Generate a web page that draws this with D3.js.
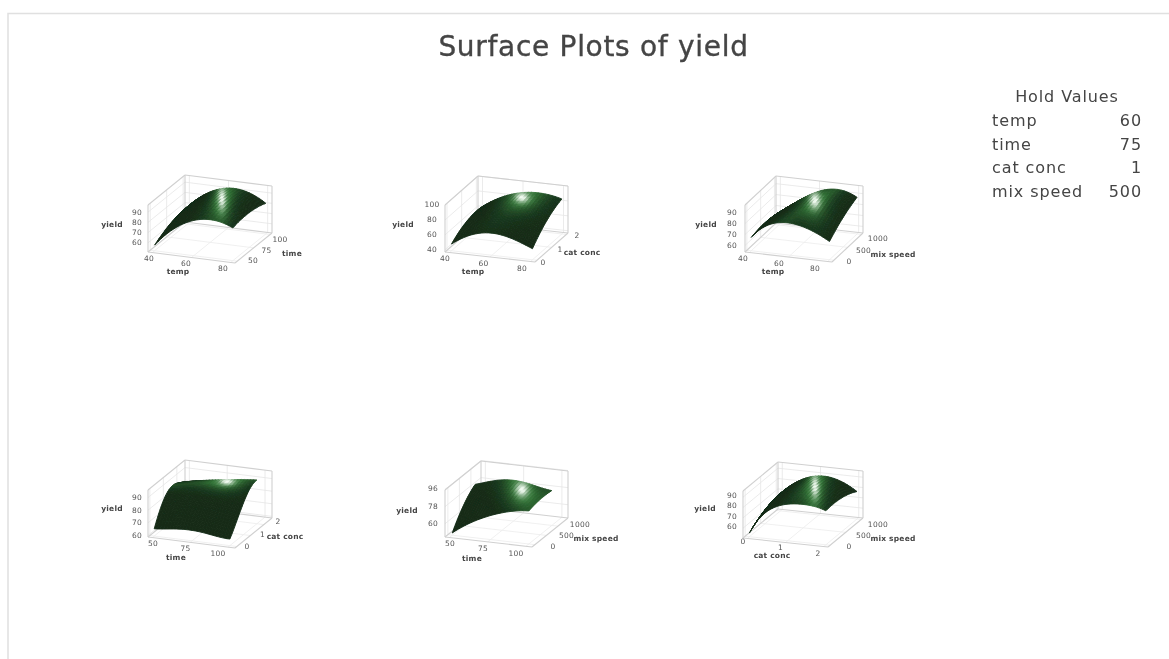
<!DOCTYPE html>
<html>
<head>
<meta charset="utf-8">
<script src="https://cdn.jsdelivr.net/npm/d3@7"></script>
<style>
  html, body { margin: 0; padding: 0; background: #fff; }
  text { font-family: "DejaVu Sans", sans-serif; fill: #444; }
</style>
</head>
<body>
<script>
const width = 1169, height = 659;

// axis values (columns / rows of the yield tables)
const tempValues = [40, 50, 60, 70, 80];
const timeValues = [50, 62.5, 75, 87.5, 100];
const catValues = [0, 0.5, 1, 1.5, 2];
const mixValues = [0, 250, 500, 750, 1000];

const tempTicks = [40, 60, 80];
const timeTicks = [50, 75, 100];
const catTicks = [0, 1, 2];
const mixTicks = [0, 500, 1000];

// yield, one row per value of the depth axis
const yieldTempTime = [
  [56.5, 75.0, 85.5, 88.2, 83.0],
  [61.6, 79.4, 89.1, 90.9, 84.8],
  [65.3, 82.3, 91.3, 92.2, 85.0],
  [67.4, 83.7, 91.9, 91.9, 83.8],
  [68.0, 83.6, 91.0, 90.1, 81.0]
];
const yieldTempCat = [
  [46.0, 61.4, 66.6, 62.1, 51.8],
  [53.4, 69.1, 75.3, 72.5, 63.6],
  [58.2, 74.3, 81.5, 80.3, 72.9],
  [60.6, 76.9, 85.1, 85.6, 79.6],
  [60.4, 77.1, 86.3, 88.5, 83.9]
];
const yieldTempMix = [
  [66.2, 80.4, 83.3, 79.3, 70.7],
  [67.5, 81.3, 86.2, 84.2, 76.4],
  [67.8, 81.3, 88.0, 88.0, 81.1],
  [67.1, 80.2, 88.9, 90.9, 84.8],
  [65.4, 78.1, 88.7, 92.7, 87.5]
];
const yieldTimeCat = [
  [64.5, 66.2, 67.0, 65.4, 63.9],
  [77.5, 78.6, 78.7, 76.9, 73.6],
  [85.3, 86.2, 86.4, 85.1, 83.7],
  [86.8, 89.0, 90.0, 90.1, 91.1],
  [83.8, 87.2, 89.7, 91.8, 93.4]
];
const yieldTimeMix = [
  [48.3, 61.7, 71.3, 77.8, 80.8],
  [59.3, 70.4, 78.0, 81.8, 82.5],
  [68.2, 77.5, 83.1, 84.6, 83.4],
  [75.2, 82.7, 86.8, 86.1, 83.4],
  [80.1, 86.2, 88.9, 86.3, 82.7]
];
const yieldCatMix = [
  [54.0, 77.8, 85.9, 87.2, 83.4],
  [59.7, 81.0, 88.8, 89.3, 84.1],
  [63.9, 82.9, 90.1, 89.8, 83.3],
  [66.5, 83.1, 90.0, 88.9, 81.0],
  [67.7, 81.9, 88.3, 86.4, 77.1]
];

const holdNames = ["temp", "time", "cat conc", "mix speed"];
const holdValues = [60, 75, 1, 500];

// one entry per panel, box corners are page pixels (A front left, B front right, C back right)
// glare is the bright spot on the surface: centre x, y and radii
const panels = [
  { xName: "temp", yName: "time", xs: tempValues, ys: timeValues, xTicks: tempTicks, yTicks: timeTicks,
    grid: yieldTempTime, zTicks: [60, 70, 80, 90], zDomain: [51, 97],
    A: [148, 252], B: [235, 263], C: [272, 233], uRange: [0.05, 0.95], vRange: [0.06, 0.95],
    glare: [222, 199, 3.5, 11],
    xLab: [[149, 259], [223, 269]], yLab: [[253, 261], [280, 240]], zLab: [137, 243, 213],
    xTitle: [178, 272], yTitle: [292, 254], zTitle: [112, 225] },
  { xName: "temp", yName: "cat conc", xs: tempValues, ys: catValues, xTicks: tempTicks, yTicks: catTicks,
    grid: yieldTempCat, zTicks: [40, 60, 80, 100], zDomain: [37, 100],
    A: [445, 252], B: [535, 262], C: [568, 233], uRange: [0.05, 0.95], vRange: [0.06, 0.95],
    glare: [522, 198, 6.5, 5],
    xLab: [[445, 259], [522, 269]], yLab: [[543, 263], [577, 236]], zLab: [432, 250, 205],
    xTitle: [473, 272], yTitle: [582, 253], zTitle: [403, 225] },
  { xName: "temp", yName: "mix speed", xs: tempValues, ys: mixValues, xTicks: tempTicks, yTicks: mixTicks,
    grid: yieldTempMix, zTicks: [60, 70, 80, 90], zDomain: [54, 97],
    A: [745, 252], B: [832, 262], C: [863, 233], uRange: [0.05, 0.95], vRange: [0.06, 0.95],
    glare: [815, 201, 5, 8],
    xLab: [[743, 259], [815, 269]], yLab: [[849, 262], [878, 239]], zLab: [732, 246, 213],
    xTitle: [773, 272], yTitle: [893, 255], zTitle: [706, 225] },
  { xName: "time", yName: "cat conc", xs: timeValues, ys: catValues, xTicks: timeTicks, yTicks: catTicks,
    grid: yieldTimeCat, zTicks: [60, 70, 80, 90], zDomain: [58.7, 96],
    A: [148, 537], B: [235, 548], C: [272, 518], uRange: [0.05, 0.92], vRange: [0.05, 0.78],
    glare: [227, 482, 7, 3.5],
    xLab: [[153, 544], [218, 554]], yLab: [[247, 547], [278, 522]], zLab: [137, 536, 498],
    xTitle: [176, 558], yTitle: [285, 537], zTitle: [112, 509] },
  { xName: "time", yName: "mix speed", xs: timeValues, ys: mixValues, xTicks: timeTicks, yTicks: mixTicks,
    grid: yieldTimeMix, zTicks: [60, 78, 96], zDomain: [46, 95.5],
    A: [445, 537], B: [532, 547], C: [568, 518], uRange: [0.05, 0.93], vRange: [0.08, 0.72],
    glare: [522, 490, 6, 7],
    xLab: [[450, 544], [516, 554]], yLab: [[553, 547], [580, 525]], zLab: [433, 524, 489],
    xTitle: [472, 559], yTitle: [596, 539], zTitle: [407, 511] },
  { xName: "cat conc", yName: "mix speed", xs: catValues, ys: mixValues, xTicks: catTicks, yTicks: mixTicks,
    grid: yieldCatMix, zTicks: [60, 70, 80, 90], zDomain: [50.5, 96],
    A: [743, 538], B: [828, 547], C: [863, 518], uRange: [0.05, 0.95], vRange: [0.06, 0.95],
    glare: [815, 487, 3.5, 11],
    xLab: [[743, 542], [818, 554]], yLab: [[849, 547], [878, 525]], zLab: [732, 527, 496],
    xTitle: [772, 556], yTitle: [893, 539], zTitle: [705, 509] }
];

const boxHeight = 47;
const subdiv = 24;

const svg = d3.select("body").append("svg")
  .attr("width", width)
  .attr("height", height)
  .style("display", "block");

const defs = svg.append("defs");
defs.append("filter").attr("id", "soft").attr("x", "-5%").attr("y", "-5%").attr("width", "110%").attr("height", "110%")
  .append("feGaussianBlur").attr("stdDeviation", 0.7);
defs.append("filter").attr("id", "softText").attr("x", "-5%").attr("y", "-20%").attr("width", "110%").attr("height", "140%")
  .append("feGaussianBlur").attr("stdDeviation", 0.5);
defs.append("filter").attr("id", "softLabel").attr("x", "-5%").attr("y", "-5%").attr("width", "110%").attr("height", "110%")
  .append("feGaussianBlur").attr("stdDeviation", 0.6);

// page frame
svg.append("path")
  .attr("d", `M8,${height}V13.5H${width}`)
  .attr("fill", "none")
  .attr("stroke", "#e0e0e0")
  .attr("stroke-width", 1.5);

svg.append("text")
  .attr("x", 593.5)
  .attr("y", 56)
  .attr("text-anchor", "middle")
  .attr("font-size", 28)
  .attr("letter-spacing", 0.7)
  .attr("stroke", "#444")
  .attr("stroke-width", 0.35)
  .attr("filter", "url(#softText)")
  .text("Surface Plots of yield");

// hold values table
const hold = svg.append("g").attr("filter", "url(#softText)").attr("font-size", 16).attr("letter-spacing", 0.9);
hold.append("text").attr("x", 1067).attr("y", 102).attr("text-anchor", "middle").text("Hold Values");
holdNames.forEach((name, i) => {
  const y = 126 + i * 23.7;
  hold.append("text").attr("x", 992).attr("y", y).text(name);
  hold.append("text").attr("x", 1142).attr("y", y).attr("text-anchor", "end").text(holdValues[i]);
});

// smooth value between the table points
function lagrange(vals, t) {
  const n = vals.length;
  let sum = 0;
  for (let i = 0; i < n; i++) {
    let term = vals[i];
    for (let j = 0; j < n; j++) {
      if (j !== i) term *= (t - j) / (i - j);
    }
    sum += term;
  }
  return sum;
}

const dark = d3.rgb(20, 44, 24);
const green = d3.rgb(52, 118, 56);
const shine = d3.rgb(240, 250, 240);

panels.forEach(p => {
  const uVec = [p.B[0] - p.A[0], p.B[1] - p.A[1]];
  const vVec = [p.C[0] - p.B[0], p.C[1] - p.B[1]];
  const project = (u, v, w) => [
    p.A[0] + u * uVec[0] + v * vVec[0],
    p.A[1] + u * uVec[1] + v * vVec[1] - w * boxHeight
  ];

  const uScale = d3.scaleLinear().domain(d3.extent(p.xs)).range(p.uRange);
  const vScale = d3.scaleLinear().domain(d3.extent(p.ys)).range(p.vRange);
  const wScale = d3.scaleLinear().domain(p.zDomain).range([0, 1]);

  const g = svg.append("g").attr("filter", "url(#soft)");
  const line = d3.line();

  const addLine = (a, b, color, w) => g.append("path")
    .attr("d", line([project(...a), project(...b)]))
    .attr("fill", "none")
    .attr("stroke", color)
    .attr("stroke-width", w);

  // walls and floor grid
  p.zTicks.forEach(t => {
    const w = wScale(t);
    addLine([0, 0, w], [0, 1, w], "#e6e6e6", 0.8);
    addLine([0, 1, w], [1, 1, w], "#e6e6e6", 0.8);
  });
  p.xTicks.forEach(t => {
    const u = uScale(t);
    addLine([u, 0, 0], [u, 1, 0], "#ececec", 0.8);
    addLine([u, 1, 0], [u, 1, 1], "#e6e6e6", 0.8);
  });
  p.yTicks.forEach(t => {
    const v = vScale(t);
    addLine([0, v, 0], [1, v, 0], "#ececec", 0.8);
    addLine([0, v, 0], [0, v, 1], "#e6e6e6", 0.8);
  });

  // box edges
  [
    [[0, 0, 0], [1, 0, 0]], [[1, 0, 0], [1, 1, 0]], [[0, 0, 0], [0, 1, 0]], [[0, 1, 0], [1, 1, 0]],
    [[0, 0, 0], [0, 0, 1]], [[0, 1, 0], [0, 1, 1]], [[1, 1, 0], [1, 1, 1]],
    [[0, 0, 1], [0, 1, 1]], [[0, 1, 1], [1, 1, 1]]
  ].forEach(e => addLine(e[0], e[1], "#d0d0d0", 1.1));

  // surface mesh in box coordinates, rows run front to back
  const last = p.xs.length - 1;
  const mesh = d3.range(subdiv + 1).map(j => {
    const sj = j / subdiv * last;
    const col = p.grid[0].map((_, c) => lagrange(p.grid.map(r => r[c]), sj));
    return d3.range(subdiv + 1).map(i => ({
      u: uScale(lagrange(p.xs, i / subdiv * last)),
      v: vScale(lagrange(p.ys, sj)),
      w: wScale(lagrange(col, i / subdiv * last))
    }));
  });

  const surf = g.append("g");
  for (let j = subdiv - 1; j >= 0; j--) {
    for (let i = 0; i < subdiv; i++) {
      const a = mesh[j][i], b = mesh[j][i + 1], c = mesh[j + 1][i + 1], d = mesh[j + 1][i];
      const dwdu = ((b.w - a.w) + (c.w - d.w)) / 2 / (b.u - a.u);
      const dwdv = ((d.w - a.w) + (c.w - b.w)) / 2 / (d.v - a.v);
      const nz = 1 / Math.hypot(0.8 * dwdu, 0.8 * dwdv, 1);
      const pts = [a, b, c, d].map(q => project(q.u, q.v, q.w));
      const cx = d3.mean(pts, q => q[0]), cy = d3.mean(pts, q => q[1]);
      const dx = (cx - p.glare[0]) / p.glare[2], dy = (cy - p.glare[1]) / p.glare[3];
      const r2 = dx * dx + dy * dy;
      const col = d3.interpolateRgb(
        d3.interpolateRgb(dark, green)(Math.min(1, 0.55 * Math.pow(nz, 16) + 0.85 * Math.exp(-r2 / 7))),
        shine
      )(Math.min(1, 1.05 * Math.exp(-r2)));
      surf.append("path")
        .attr("d", line(pts) + "Z")
        .attr("fill", col)
        .attr("stroke", col)
        .attr("stroke-width", 0.9)
        .attr("stroke-linejoin", "round");
    }
  }

  // tick labels and axis titles
  const labels = svg.append("g")
    .attr("filter", "url(#softLabel)")
    .attr("text-anchor", "middle")
    .attr("dominant-baseline", "middle");
  const bold = (pos, txt) => labels.append("text")
    .attr("x", pos[0]).attr("y", pos[1])
    .attr("font-size", 7.5)
    .attr("font-weight", 700)
    .attr("letter-spacing", 0.2)
    .text(txt);
  const tick = (x, y, txt) => labels.append("text")
    .attr("x", x).attr("y", y)
    .attr("font-size", 7.5)
    .attr("letter-spacing", 0.3)
    .style("fill", "#555")
    .text(txt);

  const xLabX = d3.scaleLinear().domain(d3.extent(p.xTicks)).range([p.xLab[0][0], p.xLab[1][0]]);
  const xLabY = d3.scaleLinear().domain(d3.extent(p.xTicks)).range([p.xLab[0][1], p.xLab[1][1]]);
  p.xTicks.forEach(t => tick(xLabX(t), xLabY(t), t));

  const yLabX = d3.scaleLinear().domain(d3.extent(p.yTicks)).range([p.yLab[0][0], p.yLab[1][0]]);
  const yLabY = d3.scaleLinear().domain(d3.extent(p.yTicks)).range([p.yLab[0][1], p.yLab[1][1]]);
  p.yTicks.forEach(t => tick(yLabX(t), yLabY(t), t));

  const zLabY = d3.scaleLinear().domain(d3.extent(p.zTicks)).range([p.zLab[1], p.zLab[2]]);
  p.zTicks.forEach(t => tick(p.zLab[0], zLabY(t), t));

  bold(p.xTitle, p.xName);
  bold(p.yTitle, p.yName);
  bold(p.zTitle, "yield");
});
</script>
</body>
</html>
